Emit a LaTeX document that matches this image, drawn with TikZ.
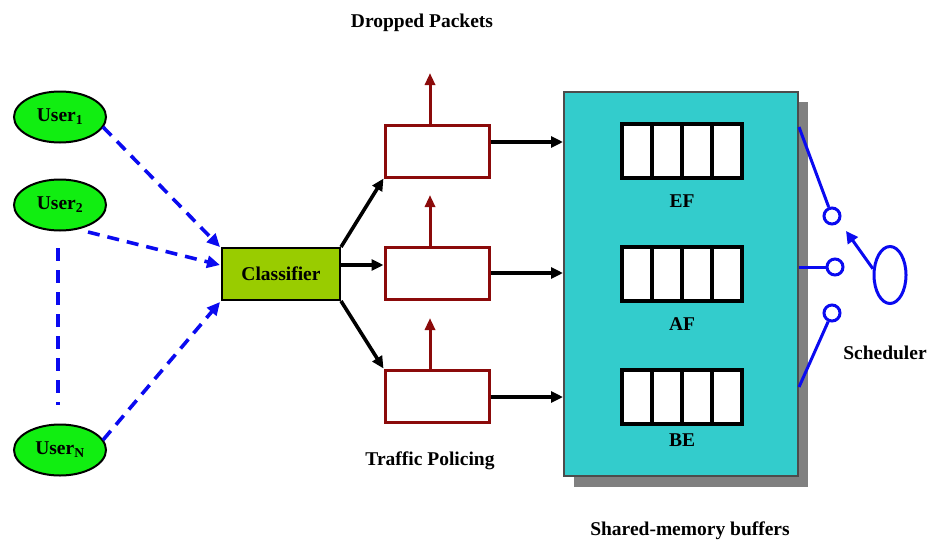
\documentclass[tikz,border=0pt]{standalone}
\usepackage{fontspec}
\setmainfont{Liberation Serif}
\usetikzlibrary{arrows.meta,shapes.geometric,positioning}
\definecolor{usergreen}{HTML}{11EE11}
\definecolor{clsgreen}{HTML}{99CC00}
\definecolor{teal2}{HTML}{33CCCC}
\definecolor{darkred2}{HTML}{8B0A0A}
\definecolor{blue2}{HTML}{0A0AF0}
\definecolor{shadowgray}{HTML}{808080}
\tikzset{
  lbl/.style={font=\fontsize{19.5}{21}\selectfont\bfseries, inner sep=0pt},
  user/.style={ellipse, draw=black, line width=2pt, fill=usergreen,
    minimum width=92pt, minimum height=51pt, inner sep=0pt,
    font=\fontsize{19.5}{21}\selectfont\bfseries},
  cls/.style={draw=black, line width=2pt, fill=clsgreen, minimum width=118pt,
    minimum height=52pt, inner sep=0pt, font=\fontsize{19.5}{21}\selectfont\bfseries},
  police/.style={draw=darkred2, line width=3pt, fill=white, minimum width=104pt,
    minimum height=52pt, inner sep=0pt},
  cell/.style={draw=black, line width=3.2pt, fill=white, minimum width=30pt,
    minimum height=54pt, inner sep=0pt},
  feed/.style={blue2, line width=3.6pt, dash pattern=on 12pt off 8pt,
    -{Triangle[length=13pt,width=12pt]}},
  flow/.style={black, line width=3.6pt, -{Triangle[length=12pt,width=11pt]}},
  drop/.style={darkred2, line width=3pt, -{Triangle[length=12pt,width=10pt]}},
  sched/.style={blue2, line width=3pt},
  port/.style={circle, draw=blue2, line width=3pt, fill=white,
    minimum size=16pt, inner sep=0pt},
}
\begin{document}
\begin{tikzpicture}[x=1pt,y=-1pt]
\useasboundingbox (0,0) rectangle (928,544);

% users
\node[user] (u1) at (60,117) {User\textsubscript{1}};
\node[user] (u2) at (60,205) {User\textsubscript{2}};
\node[user] (un) at (60,450) {User\textsubscript{N}};
\coordinate (vtop) at (58,248);
\coordinate (vbot) at (58,405);
\draw[blue2, line width=3.6pt, dash pattern=on 13pt off 9pt] (vtop) -- (vbot);

% classifier
\node[cls] (cls) at (281,274) {Classifier};
\coordinate (cin1) at (220,247);
\coordinate (cin2) at (220,265);
\coordinate (cin3) at (220,302);
\coordinate (u1out) at (103,127);
\coordinate (u2out) at (88,232);
\coordinate (unout) at (103,440);
\draw[feed] (u1out) -- (cin1);
\draw[feed] (u2out) -- (cin2);
\draw[feed] (unout) -- (cin3);

% traffic policing stages
\node[police] (p1) at (437,151) {};
\node[police] (p2) at (437,273) {};
\node[police] (p3) at (437,396) {};
\coordinate (d1) at (430,73);
\coordinate (d2) at (430,195);
\coordinate (d3) at (430,318);
\draw[drop] (p1.north -| d1) -- (d1);
\draw[drop] (p2.north -| d2) -- (d2);
\draw[drop] (p3.north -| d3) -- (d3);

\coordinate (c2) at (340,265);
\draw[flow] (cls.north east) -- (p1.south west);
\draw[flow] (c2) -- (p2.west |- c2);
\draw[flow] (cls.south east) -- (p3.north west);

% shared-memory buffer block with drop shadow
\fill[shadowgray] (574,102) rectangle (808,487);
\node[draw=black!70, line width=1.2pt, fill=teal2, minimum width=234pt,
  minimum height=384pt, inner sep=0pt] (buf) at (681,284) {};

\coordinate (b1) at (563,142);
\coordinate (b2) at (563,273);
\coordinate (b3) at (563,397);
\draw[flow] (p1.east |- b1) -- (b1);
\draw[flow] (p2.east |- b2) -- (b2);
\draw[flow] (p3.east |- b3) -- (b3);

% queues
\foreach \q/\y in {ef/151, af/274, be/397}{
  \foreach \i in {0,...,3}{
    \node[cell] (\q\i) at (637+30*\i,\y) {};
  }
}
\node[lbl] (lef) at (682,201) {EF};
\node[lbl] (laf) at (682,324) {AF};
\node[lbl] (lbe) at (682,440) {BE};

% scheduler
\node[port] (s1) at (832,216) {};
\node[port] (s2) at (835,267) {};
\node[port] (s3) at (832,313) {};
\coordinate (o1) at (799,127);
\coordinate (o2) at (799,267);
\coordinate (o3) at (799,387);
\draw[sched] (o1) -- (s1);
\draw[sched] (o2) -- (s2);
\draw[sched] (o3) -- (s3);
\node[ellipse, draw=blue2, line width=3pt, minimum width=32pt,
  minimum height=57pt, inner sep=0pt] (rot) at (890,275) {};
\coordinate (rtip) at (846,231);
\draw[sched, -{Triangle[length=12pt,width=12pt]}] (rot.160) -- (rtip);

% captions
\node[lbl] (tdrop) at (422,23) {Dropped Packets};
\node[lbl] (tpol) at (430,461) {Traffic Policing};
\node[lbl] (tbuf) at (690,531) {Shared-memory buffers};
\node[lbl] (tsch) at (885,353) {Scheduler};
\end{tikzpicture}
\end{document}
